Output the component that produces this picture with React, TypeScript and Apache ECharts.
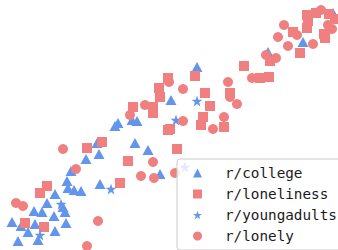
import React, { useEffect, useRef } from "react";
import * as echarts from "echarts";

// Point positions (x to the right, y upward)
const collegeX = [115, 118, 132, 137, 97, 135, 99, 148, 86, 71, 160, 100, 67, 68, 74, 81, 55, 47, 63, 34, 42, 65, 54, 12, 21, 35, 66, 28, 55, 18, 38, 197, 171, 268, 303, 333];
const collegeY = [124, 127, 130, 129, 107, 107, 96, 100, 91, 79, 76, 66, 69, 62, 60, 59, 56, 47, 43, 39, 38, 38, 34, 28, 24, 26, 27, 18, 19, 9, 10, 183, 150, 198, 208, 237];

const lonelinessX = [153, 168, 87, 102, 128, 120, 47, 40, 25, 44, 195, 168, 159, 160, 205, 153, 210, 133, 203, 201, 170, 224, 177, 244, 230, 307, 308, 316, 329, 335, 307, 324, 325, 293, 300, 270, 260, 269];
const lonelinessY = [137, 120, 102, 108, 89, 67, 64, 57, 27, 23, 174, 172, 162, 153, 157, 143, 144, 143, 133, 125, 121, 123, 101, 184, 157, 235, 229, 237, 236, 231, 222, 216, 212, 218, 197, 189, 172, 173];

const youngadultsX = [111, 61, 40, 197, 176, 185];
const youngadultsY = [61, 46, 15, 149, 130, 83];

const lonelyX = [130, 63, 153, 76, 141, 154, 16, 23, 98, 87, 169, 183, 145, 183, 213, 228, 230, 237, 224, 252, 284, 297, 278, 288, 313, 266, 276, 321, 328, 332, 175];
const lonelyY = [135, 101, 88, 81, 74, 72, 47, 44, 29, 4, 168, 161, 145, 129, 121, 168, 153, 146, 133, 172, 225, 215, 213, 204, 206, 195, 192, 240, 225, 221, 77];

const seriesNames = ["r/college", "r/loneliness", "r/youngadults", "r/lonely"];

const BLUE = "#6495ED";
const RED = "#F08080";
const STAR = "path://M50,0 L61.8,36.2 L100,36.2 L69.1,58.8 L80.9,95.1 L50,72.7 L19.1,95.1 L30.9,58.8 L0,36.2 L38.2,36.2 Z";

function zip(xs: number[], ys: number[]) {
  return xs.map((x, i) => [x, ys[i]]);
}

export default function App() {
  const ref = useRef<HTMLDivElement>(null);
  useEffect(() => {
    if (!ref.current) return;
    const chart = echarts.init(ref.current, undefined, { renderer: "svg" });
    chart.setOption({
      animation: false,
      grid: { left: 0, right: 0, top: 0, bottom: 0 },
      xAxis: { type: "value", min: 0, max: 338, show: false },
      yAxis: { type: "value", min: 0, max: 250, show: false },
      legend: {
        orient: "vertical",
        left: 177,
        top: 159,
        height: 200,
        width: 300,
        padding: [7, 7, 7, 16],
        itemWidth: 9,
        itemHeight: 9,
        itemGap: 7,
        backgroundColor: "rgba(255,255,255,0.8)",
        borderColor: "#cccccc",
        borderWidth: 1,
        borderRadius: 3,
        textStyle: {
          fontFamily: "DejaVu Sans Mono",
          fontSize: 14.3,
          lineHeight: 14,
          color: "#1a1a1a",
          padding: [0, 0, 0, 18],
        },
        data: [
          { name: seriesNames[0], icon: "triangle" },
          { name: seriesNames[1], icon: "rect" },
          { name: seriesNames[2], icon: STAR },
          { name: seriesNames[3], icon: "circle" },
        ],
      },
      series: [
        {
          name: seriesNames[0],
          type: "scatter",
          symbol: "triangle",
          symbolSize: [11, 10],
          itemStyle: { color: BLUE, opacity: 1 },
          data: zip(collegeX, collegeY),
        },
        {
          name: seriesNames[1],
          type: "scatter",
          symbol: "rect",
          symbolSize: 10,
          itemStyle: { color: RED, opacity: 1 },
          data: zip(lonelinessX, lonelinessY),
        },
        {
          name: seriesNames[2],
          type: "scatter",
          symbol: STAR,
          symbolSize: 11,
          itemStyle: { color: BLUE, opacity: 1 },
          data: zip(youngadultsX, youngadultsY),
        },
        {
          name: seriesNames[3],
          type: "scatter",
          symbol: "circle",
          symbolSize: 10,
          itemStyle: { color: RED, opacity: 1 },
          data: zip(lonelyX, lonelyY),
        },
      ],
    });
    return () => chart.dispose();
  }, []);
  return <div ref={ref} style={{ width: 338, height: 250, position: "absolute", left: 0, top: 0 }} />;
}
